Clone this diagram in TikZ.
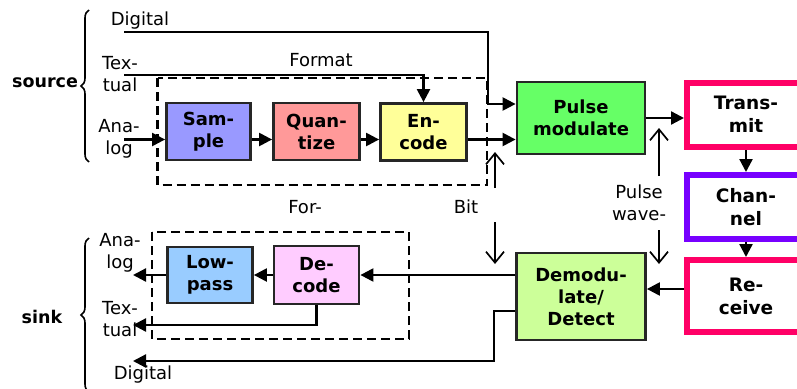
\documentclass[tikz,border=0pt]{standalone}
\usepackage{fontspec}
\setmainfont{DejaVu Sans}
\usetikzlibrary{arrows.meta,decorations.pathreplacing,calc}
\definecolor{sampc}{HTML}{9999FF}
\definecolor{quanc}{HTML}{FF9999}
\definecolor{encc}{HTML}{FFFF99}
\definecolor{pmc}{HTML}{66FF66}
\definecolor{pinkc}{HTML}{FF0066}
\definecolor{purpc}{HTML}{7700FF}
\definecolor{lowc}{HTML}{99CCFF}
\definecolor{decc}{HTML}{FFCCFF}
\definecolor{demc}{HTML}{CCFF99}
\begin{document}
\begin{tikzpicture}[x=1pt,y=-1pt,
  blk/.style={draw=black!85, line width=2.8pt, font=\fontsize{18}{22}\selectfont\bfseries, align=center, inner sep=0pt},
  chbox/.style={draw=#1, fill=white, line width=6pt, font=\fontsize{18.5}{23}\selectfont\bfseries, align=center, inner sep=0pt},
  lbl/.style={font=\fontsize{18}{22}\selectfont, align=center, inner sep=0pt},
  blbl/.style={font=\fontsize{17.5}{22}\selectfont\bfseries, inner sep=0pt},
  arr/.style={line width=2.3pt, -{Triangle[length=13pt,width=13pt]}},
  barb/.style={line width=1.7pt, -{Straight Barb[length=11pt,width=18pt]}},
  dsh/.style={line width=2.3pt, dash pattern=on 9pt off 5pt},
  brc/.style={line width=1.6pt, decorate, decoration={brace, amplitude=8pt}}]
\useasboundingbox (0,0) rectangle (797,388);
\clip (0,0) rectangle (797,388);

% dashed format boxes
\draw[dsh] (157.5,78) rectangle (487,185);
\draw[dsh] (152,232) rectangle (409,339);

% blocks
\node[blk, fill=sampc, minimum width=84pt, minimum height=57pt] (sam) at (208.5,131.5) {Sam-\\ple};
\node[blk, fill=quanc, minimum width=86pt, minimum height=57pt] (qua) at (316.5,131.5) {Quan-\\tize};
\node[blk, fill=encc, minimum width=86pt, minimum height=57pt] (enc) at (423.5,132) {En-\\code};
\node[blk, fill=pmc, minimum width=128pt, minimum height=72pt] (pm) at (581,118) {Pulse\\modulate};
\node[chbox=pinkc, minimum width=118pt, minimum height=64.5pt] (tra) at (746,114.75) {Trans-\\mit};
\node[chbox=purpc, minimum width=118pt, minimum height=64pt] (cha) at (746,207) {Chan-\\nel};
\node[chbox=pinkc, minimum width=118pt, minimum height=72pt] (rec) at (746,296) {Re-\\ceive};
\node[blk, fill=demc, minimum width=129pt, minimum height=87pt] (dem) at (581,296.5) {Demodu-\\late/\\Detect};
\node[blk, fill=lowc, minimum width=85pt, minimum height=56pt] (low) at (210,275) {Low-\\pass};
\node[blk, fill=decc, minimum width=85pt, minimum height=58pt] (dec) at (316.5,275) {De-\\code};

% labels
\node[blbl] (lsrc) at (45,82.5) {source};
\node[blbl] (lsnk) at (42,317) {sink};
\node[lbl] (ldig) at (140,21) {Digital};
\node[lbl] (ltex) at (120,74) {Tex-\\tual};
\node[lbl] (lana) at (119,139) {Ana-\\log};
\node[lbl] (lfmt) at (321,60) {Format};
\node[lbl] (lfor) at (305,207) {For-};
\node[lbl] (lbit) at (466,207) {Bit};
\node[lbl] (lpw) at (639,203) {Pulse\\wave-};
\node[lbl] (lana2) at (120,253) {Ana-\\log};
\node[lbl] (ltex2) at (120,319) {Tex-\\tual};
\node[lbl] (ldig2) at (143,375) {Digital};

% braces
\draw[brc] (89,162) -- (89,10);
\draw[brc] (89,392) -- (89,238);

% coordinates
\coordinate (dig) at (124,32);
\coordinate (dj) at (488,104);
\coordinate (tex) at (124,75);
\coordinate (r1) at (124,139.5);
\coordinate (r2) at (0,289);
\coordinate (aout) at (133,275);
\coordinate (tout) at (133,325);
\coordinate (dout) at (133,361);
\coordinate (dj2) at (494,311);
\coordinate (pwa) at (659,176);
\coordinate (pwb) at (659,128);
\coordinate (pwc) at (659,230);
\coordinate (pwd) at (659,264);
\coordinate (bta) at (495,188);
\coordinate (btb) at (495,152);
\coordinate (btc) at (495,222);
\coordinate (btd) at (495,264);

% transmitter chain
\draw[arr] (dig) -| (dj) -- (dj -| pm.west);
\draw[arr] (tex) -| (enc.north);
\draw[arr] (r1) -- (r1 -| sam.west);
\draw[arr] (r1 -| sam.east) -- (r1 -| qua.west);
\draw[arr] (r1 -| qua.east) -- (r1 -| enc.west);
\draw[arr] (r1 -| enc.east) -- (r1 -| pm.west);
\draw[arr] (pm.east) -- (pm.east -| tra.west);
\draw[arr] (tra.south) -- (cha.north);
\draw[arr] (cha.south) -- (rec.north);

% receiver chain
\draw[arr] (r2 -| rec.west) -- (r2 -| dem.east);
\draw[arr] (dec.east -| dem.west) -- (dec.east);
\draw[arr] (dec.west) -- (low.east);
\draw[arr] (low.west) -- (aout);
\draw[arr] (dec.south) |- (tout);
\draw[arr] (dj2 -| dem.west) -- (dj2) |- (dout);

% waveform markers
\draw[barb] (pwa) -- (pwb);
\draw[barb] (pwc) -- (pwd);
\draw[barb] (bta) -- (btb);
\draw[barb] (btc) -- (btd);
\end{tikzpicture}
\end{document}
